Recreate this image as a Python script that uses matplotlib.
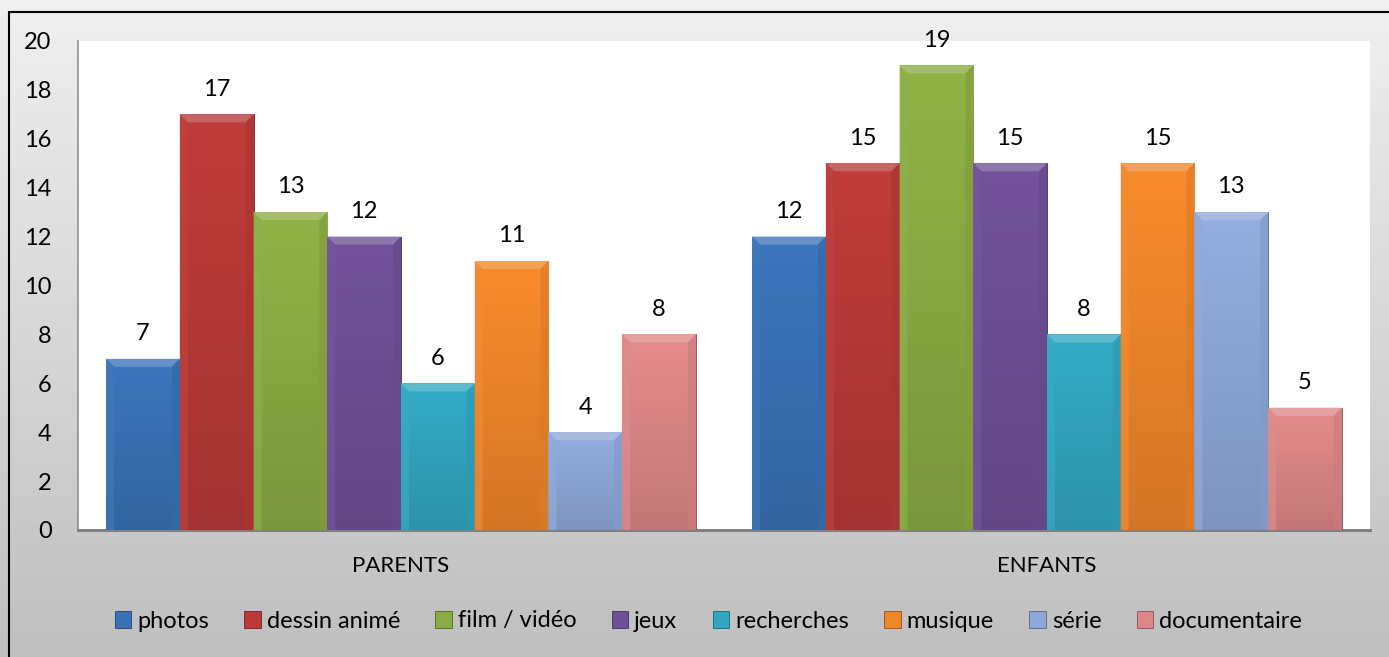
import numpy as np
import matplotlib
matplotlib.use("Agg")
import matplotlib.pyplot as plt
from matplotlib.colors import to_rgb
from matplotlib.patches import Polygon, Rectangle

plt.rcParams['font.family'] = ['Lato', 'DejaVu Sans']

# data
groups = ["PARENTS", "ENFANTS"]
series = ["photos", "dessin animé", "film / vidéo", "jeux", "recherches", "musique", "série", "documentaire"]
parents = [7, 17, 13, 12, 6, 11, 4, 8]
enfants = [12, 15, 19, 15, 8, 15, 13, 5]
colors = ["#3a72b6", "#b93a37", "#8aac44", "#6e5096", "#32a6c0", "#f0862a", "#8ea8d8", "#dd8788"]
yticks = [0, 2, 4, 6, 8, 10, 12, 14, 16, 18, 20]

W, H = 1389, 657
fig = plt.figure(figsize=(W / 100, H / 100), dpi=100)

# background gradient + border
bg = fig.add_axes([0, 0, 1, 1], zorder=-5)
grad = np.linspace(0, 1, 256).reshape(-1, 1)
top_c = np.array([0.94, 0.94, 0.94])
bot_c = np.array([0.75, 0.75, 0.75])
img = top_c * (1 - grad[..., None]) + bot_c * grad[..., None]
bg.imshow(img, aspect="auto", extent=[0, 1, 0, 1], origin="upper")
bg.add_patch(Rectangle((8.5 / W, -0.01), 1.02, 1 - 11.5 / H + 0.01, fill=False,
                       edgecolor="black", lw=1.5, transform=bg.transAxes))
bg.set_xlim(0, 1)
bg.set_ylim(0, 1)
bg.axis("off")

left, right = 78 / W, 1370 / W
bottom, top = 1 - 530 / H, 1 - 41 / H
ax = fig.add_axes([left, bottom, right - left, top - bottom])
ax.set_facecolor("white")
ax.set_xlim(-0.5, 1.5)
ax.set_ylim(0, 20)

values = np.array([parents, enfants])
n = len(series)
group_w = 0.913
bw = group_w / n
x = np.arange(len(groups))

ppx = 646.0  # px per x unit
ppy = 489.0 / 20  # px per y unit
bev_x = 8 / ppx
bev_y = 8 / ppy


def shade(c, f):
    c = np.array(to_rgb(c))
    if f >= 0:
        return tuple(c + (1 - c) * f)
    return tuple(c * (1 + f))


handles = []
for i, name in enumerate(series):
    pos = x - group_w / 2 + bw * (i + 0.5)
    bars = ax.bar(pos, values[:, i], width=bw, color=colors[i], label=name,
                  edgecolor=shade(colors[i], -0.4), linewidth=0.6, zorder=3)
    handles.append(bars[0])
    for rect, v in zip(bars, values[:, i]):
        x0, y0 = rect.get_x(), rect.get_y()
        w, h = rect.get_width(), rect.get_height()
        # vertical gradient inside bar
        base = np.array(to_rgb(colors[i]))
        g = np.linspace(0, 1, 64).reshape(-1, 1, 1)
        gimg = base * (1.04 - 0.16 * g)
        gimg = np.clip(gimg, 0, 1) * np.ones((1, 4, 1))
        im = ax.imshow(gimg, extent=[x0, x0 + w, y0, y0 + h], origin="upper",
                       aspect="auto", zorder=3.1)
        im.set_clip_path(rect)
        # bevel top
        ax.add_patch(Polygon([(x0, y0 + h), (x0 + w, y0 + h), (x0 + w - bev_x, y0 + h - bev_y),
                              (x0 + bev_x, y0 + h - bev_y)], closed=True,
                             facecolor=shade(colors[i], 0.22), edgecolor="none", zorder=3.2))
        ax.add_patch(Polygon([(x0, y0 + h), (x0 + bev_x, y0 + h - bev_y), (x0 + bev_x, y0),
                              (x0, y0)], closed=True,
                             facecolor=shade(colors[i], 0.04), edgecolor="none", alpha=0.7, zorder=3.2))
        ax.add_patch(Polygon([(x0 + w, y0 + h), (x0 + w - bev_x, y0 + h - bev_y), (x0 + w - bev_x, y0),
                              (x0 + w, y0)], closed=True,
                             facecolor=shade(colors[i], -0.08), edgecolor="none", alpha=0.7, zorder=3.2))
        ax.text(x0 + w / 2, v + 0.6, str(v), ha="center", va="bottom", fontsize=17,
                color="black", zorder=4, clip_on=False)

ax.set_yticks(yticks)
ax.set_yticklabels([str(t) for t in yticks], fontsize=17)
ax.set_xticks(x)
ax.set_xticklabels(groups, fontsize=16)
ax.tick_params(axis="y", length=0, pad=19)
ax.tick_params(axis="x", length=0, pad=19)

for s in ["top", "right"]:
    ax.spines[s].set_visible(False)
ax.spines["left"].set_color("#909090")
ax.spines["left"].set_linewidth(1.2)
ax.spines["bottom"].set_color("#808080")
ax.spines["bottom"].set_linewidth(2.2)

leg = fig.legend(handles=handles, labels=series, loc="center", ncol=8,
                 bbox_to_anchor=(0.51, 1 - 621 / H), frameon=False, fontsize=17,
                 handlelength=0.7, handleheight=0.7, handletextpad=0.25, columnspacing=1.5)

fig.savefig("out.png", dpi=100)
